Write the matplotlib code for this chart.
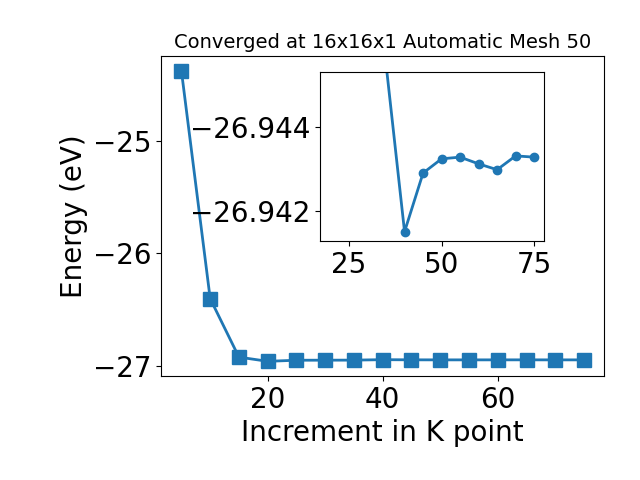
import matplotlib
matplotlib.use("Agg")
import matplotlib.pyplot as plt

# k-point increment vs total energy
kpoints = [5, 10, 15, 20, 25, 30, 35, 40, 45, 50, 55, 60, 65, 70, 75]
energy = [-24.38, -26.40, -26.919, -26.956, -26.9465, -26.946, -26.9455,
          -26.9415, -26.9429, -26.94324, -26.94328, -26.94312, -26.94298,
          -26.94331, -26.94328]

plt.rcParams['font.size'] = 20

fig = plt.figure(figsize=(6.4, 4.8), dpi=100)
ax = fig.add_axes([0.252, 0.217, 0.692, 0.666])
ax.plot(kpoints, energy, 's-', color='tab:blue', lw=2, markersize=10)
ax.set_xlabel("Increment in K point")
ax.set_ylabel("Energy (eV)")
ax.set_title("Converged at 16x16x1 Automatic Mesh 50", fontsize=14)

# zoomed inset
ins = fig.add_axes([0.5005, 0.498, 0.350, 0.351])
ins.plot(kpoints[3:], energy[3:], 'o-', color='tab:blue', lw=2, markersize=6)
ins.set_ylim(-26.94128, -26.9453)
ins.ticklabel_format(axis='y', useOffset=False)

fig.savefig("out.png")
